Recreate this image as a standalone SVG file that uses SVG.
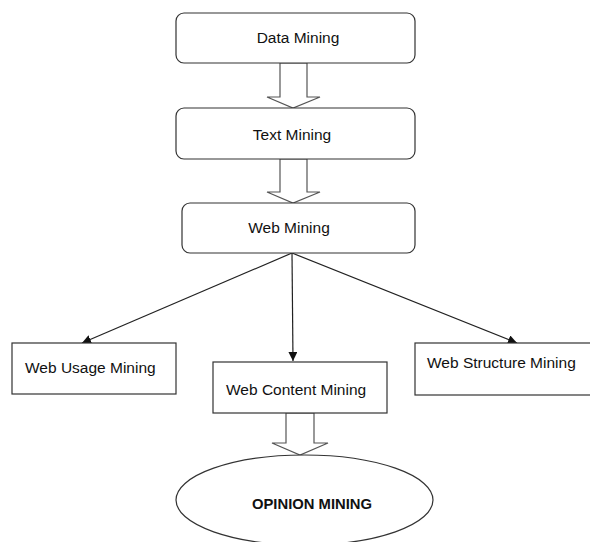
<svg xmlns="http://www.w3.org/2000/svg" width="590" height="542" viewBox="0 0 590 542">
<style>
.box{fill:#fff;stroke:#333;stroke-width:1.2}
.blk{fill:#fff;stroke:#555;stroke-width:1.2}
.t{font-family:"Liberation Sans",Arial,sans-serif;font-size:15.5px;fill:#111}
.b{font-family:"Liberation Sans",Arial,sans-serif;font-size:14.8px;font-weight:bold;fill:#111}
.ln{stroke:#222;stroke-width:1.2;fill:none}
</style>
<defs>
<marker id="ah" viewBox="0 0 10 10" refX="10" refY="5" markerWidth="9" markerHeight="9" markerUnits="userSpaceOnUse" orient="auto">
<path d="M0,0 L10,5 L0,10 z" fill="#111"/>
</marker>
</defs>
<rect width="590" height="542" fill="#fff"/>
<g id="connectors">
<path class="blk" d="M280,63 L307,63 L307,97 L320,97 L293,108 L267,97 L280,97 Z"/>
<path class="blk" d="M280,159 L307,159 L307,192 L320,192 L293,203 L267,192 L280,192 Z"/>
<path class="blk" d="M286,413 L314,413 L314,443 L328,443 L300,455 L272,443 L286,443 Z"/>
<line class="ln" x1="292" y1="253" x2="82" y2="343" marker-end="url(#ah)"/>
<line class="ln" x1="292" y1="253" x2="293" y2="361" marker-end="url(#ah)"/>
<line class="ln" x1="292" y1="253" x2="517" y2="343" marker-end="url(#ah)"/>
</g>
<g id="data-mining">
<rect class="box" x="176" y="13" width="239" height="50" rx="8"/>
<text class="t" x="298" y="43" text-anchor="middle">Data Mining</text>
</g>
<g id="text-mining">
<rect class="box" x="176" y="108" width="239" height="51" rx="8"/>
<text class="t" x="292" y="140" text-anchor="middle">Text Mining</text>
</g>
<g id="web-mining">
<rect class="box" x="182" y="203" width="233" height="50" rx="8"/>
<text class="t" x="289" y="233" text-anchor="middle">Web Mining</text>
</g>
<g id="web-usage-mining">
<rect class="box" x="12" y="343" width="164" height="51"/>
<text class="t" x="25" y="373">Web Usage Mining</text>
</g>
<g id="web-content-mining">
<rect class="box" x="213" y="362" width="174" height="51"/>
<text class="t" x="226" y="395">Web Content Mining</text>
</g>
<g id="web-structure-mining">
<rect class="box" x="415" y="343" width="180" height="52"/>
<text class="t" x="427" y="368">Web Structure Mining</text>
</g>
<g id="opinion-mining">
<ellipse class="box" cx="304.5" cy="500" rx="128.5" ry="45"/>
<text class="b" x="312" y="509" text-anchor="middle">OPINION MINING</text>
</g>
</svg>
